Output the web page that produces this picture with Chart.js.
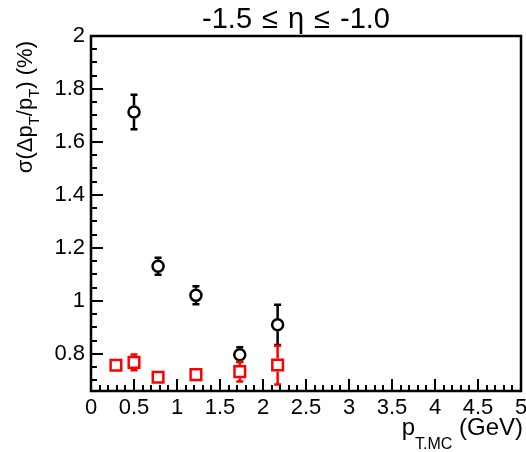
<!DOCTYPE html>
<html>
<head>
<meta charset="utf-8">
<script src="https://cdn.jsdelivr.net/npm/chart.js@4"></script>
<style>
  html, body { margin: 0; padding: 0; background: #fff; }
  #wrap { width: 526px; height: 452px; }
</style>
</head>
<body>
<div id="wrap"><canvas id="c" width="526" height="452"></canvas></div>
<script>
// Transverse momentum resolution vs generated pT, -1.5 <= eta <= -1.0
const ptBlack  = [0.50, 0.78, 1.22, 1.73, 2.17];
const sigBlack = [1.713, 1.131, 1.021, 0.797, 0.910];
const errBlack = [0.065, 0.032, 0.034, 0.028, 0.076];

const ptRed  = [0.29, 0.50, 0.78, 1.22, 1.73, 2.17];
const sigRed = [0.757, 0.768, 0.712, 0.722, 0.733, 0.758];
const errRed = [0.006, 0.030, 0.006, 0.020, 0.037, 0.073];

const xTickValues = [0, 0.5, 1, 1.5, 2, 2.5, 3, 3.5, 4, 4.5, 5];
const xTickLabels = ['0', '0.5', '1', '1.5', '2', '2.5', '3', '3.5', '4', '4.5', '5'];
const yTickValues = [0.8, 1.0, 1.2, 1.4, 1.6, 1.8, 2.0];
const yTickLabels = ['0.8', '1', '1.2', '1.4', '1.6', '1.8', '2'];

const titleParts = ['-1.5', '\u2264', '\u03B7', '\u2264', '-1.0'];

const FONT = '"Liberation Sans", Arial, Helvetica, sans-serif';

function toPoints(xs, ys, es) {
  return xs.map((x, i) => ({ x: x, y: ys[i], err: es[i] }));
}

// Vertical error bars with small caps, clipped at the marker outline
const errorBars = {
  id: 'errorBars',
  afterDatasetsDraw(chart) {
    const ctx = chart.ctx;
    const xs = chart.scales.x, ys = chart.scales.y;
    chart.data.datasets.forEach((ds) => {
      const gap = ds.markerHalf;
      ctx.save();
      ctx.strokeStyle = ds.borderColor;
      ctx.lineWidth = 2.5;
      ds.data.forEach((p) => {
        const px = xs.getPixelForValue(p.x);
        const py = ys.getPixelForValue(p.y);
        const top = ys.getPixelForValue(p.y + p.err);
        const bot = ys.getPixelForValue(p.y - p.err);
        ctx.beginPath();
        if (py - top > gap) {
          ctx.moveTo(px, py - gap); ctx.lineTo(px, top);
          ctx.moveTo(px - 3.5, top); ctx.lineTo(px + 3.5, top);
        }
        if (bot - py > gap) {
          ctx.moveTo(px, py + gap); ctx.lineTo(px, bot);
          ctx.moveTo(px - 3.5, bot); ctx.lineTo(px + 3.5, bot);
        }
        ctx.stroke();
      });
      ctx.restore();
    });
  }
};

// Draw a run of text pieces, each with its own font and baseline offset
function drawRun(ctx, parts, x0, y0) {
  let x = x0;
  parts.forEach(p => { ctx.font = p.f; ctx.fillText(p.t, x, y0 + p.dy); x += p.w; });
}
function measureRun(ctx, parts) {
  let total = 0;
  parts.forEach(p => { ctx.font = p.f; p.w = ctx.measureText(p.t).width + (p.gap || 0); total += p.w; });
  return total;
}

// Frame with inward major/minor ticks and the text decorations
const frame = {
  id: 'frame',
  afterDraw(chart) {
    const ctx = chart.ctx;
    const a = chart.chartArea;
    const xs = chart.scales.x, ys = chart.scales.y;
    ctx.save();
    ctx.strokeStyle = '#000';
    ctx.lineWidth = 2.5;
    ctx.strokeRect(a.left, a.top, a.right - a.left, a.bottom - a.top);

    ctx.lineWidth = 2;
    ctx.beginPath();
    for (let i = 0; i <= 50; i++) {
      const v = i / 10;
      const px = Math.round(xs.getPixelForValue(v));
      const len = (i % 5 === 0) ? 12 : 6;
      ctx.moveTo(px, a.bottom); ctx.lineTo(px, a.bottom - len);
    }
    for (let i = 14; i <= 40; i++) {
      const v = i * 0.05;
      const py = Math.round(ys.getPixelForValue(v));
      if (py > a.bottom) continue;
      const len = (i % 4 === 0) ? 12 : 6;
      ctx.moveTo(a.left, py); ctx.lineTo(a.left + len, py);
    }
    ctx.stroke();

    ctx.fillStyle = '#000';
    ctx.textBaseline = 'alphabetic';
    ctx.textAlign = 'left';

    // title, with wide spacing around the relation symbols
    const tf = '29px ' + FONT;
    const tparts = titleParts.map((t, i) => ({ t: t, f: tf, dy: 0, gap: i < titleParts.length - 1 ? 10 : 0 }));
    const tw = measureRun(ctx, tparts);
    drawRun(ctx, tparts, 296 - tw / 2, 28);

    // x-axis title, right aligned with the frame
    const big = '24px ' + FONT, small = '16px ' + FONT;
    const xparts = [
      { t: 'p', f: big, dy: 0 },
      { t: 'T.MC', f: small, dy: 14 },
      { t: ' (GeV)', f: big, dy: 0, gap: 0 }
    ];
    const xw = measureRun(ctx, xparts);
    drawRun(ctx, xparts, a.right + 2 - xw, 435);

    // y-axis title, rotated, its end aligned near the top of the frame
    const ybig = '22px ' + FONT, ysmall = '15px ' + FONT;
    const yparts = [
      { t: '\u03C3(\u0394p', f: ybig, dy: 0 },
      { t: 'T', f: ysmall, dy: 7 },
      { t: '/p', f: ybig, dy: 0 },
      { t: 'T', f: ysmall, dy: 7 },
      { t: ') (%)', f: ybig, dy: 0 }
    ];
    const yw = measureRun(ctx, yparts);
    ctx.translate(32, 41);
    ctx.rotate(-Math.PI / 2);
    drawRun(ctx, yparts, -yw, 0);
    ctx.restore();
  }
};

new Chart(document.getElementById('c'), {
  type: 'scatter',
  data: {
    datasets: [
      {
        label: 'black',
        data: toPoints(ptBlack, sigBlack, errBlack),
        borderColor: '#000',
        backgroundColor: 'rgba(0,0,0,0)',
        pointStyle: 'circle',
        pointRadius: 5.5,
        pointBorderWidth: 2.5,
        markerHalf: 6.5
      },
      {
        label: 'red',
        data: toPoints(ptRed, sigRed, errRed),
        borderColor: '#ff0000',
        backgroundColor: 'rgba(0,0,0,0)',
        pointStyle: 'rect',
        pointRadius: 7.5,
        pointBorderWidth: 2.5,
        markerHalf: 6.5
      }
    ]
  },
  options: {
    responsive: false,
    animation: false,
    events: [],
    layout: { autoPadding: false, padding: { top: 36, right: 5, bottom: 0, left: 0 } },
    plugins: {
      legend: { display: false },
      tooltip: { enabled: false },
      title: { display: false }
    },
    scales: {
      x: {
        type: 'linear',
        min: 0, max: 5,
        grid: { display: false, drawTicks: false },
        border: { display: false },
        afterBuildTicks: (s) => { s.ticks = xTickValues.map(v => ({ value: v })); },
        afterFit: (s) => { s.height = 61; s.paddingLeft = 0; s.paddingRight = 0; },
        ticks: {
          color: '#000',
          font: { family: FONT, size: 22 },
          padding: 4,
          maxRotation: 0,
          autoSkip: false,
          callback: (v) => { const i = xTickValues.indexOf(v); return i >= 0 ? xTickLabels[i] : ''; }
        }
      },
      y: {
        type: 'linear',
        min: 0.66, max: 2,
        grid: { display: false, drawTicks: false },
        border: { display: false },
        afterBuildTicks: (s) => { s.ticks = yTickValues.map(v => ({ value: v })); },
        afterFit: (s) => { s.width = 91; s.paddingTop = 0; s.paddingBottom = 0; },
        ticks: {
          color: '#000',
          font: { family: FONT, size: 22 },
          padding: 6,
          autoSkip: false,
          callback: (v) => {
            const i = yTickValues.findIndex(t => Math.abs(t - v) < 1e-9);
            return i >= 0 ? yTickLabels[i] : '';
          }
        }
      }
    }
  },
  plugins: [errorBars, frame]
});
</script>
</body>
</html>
